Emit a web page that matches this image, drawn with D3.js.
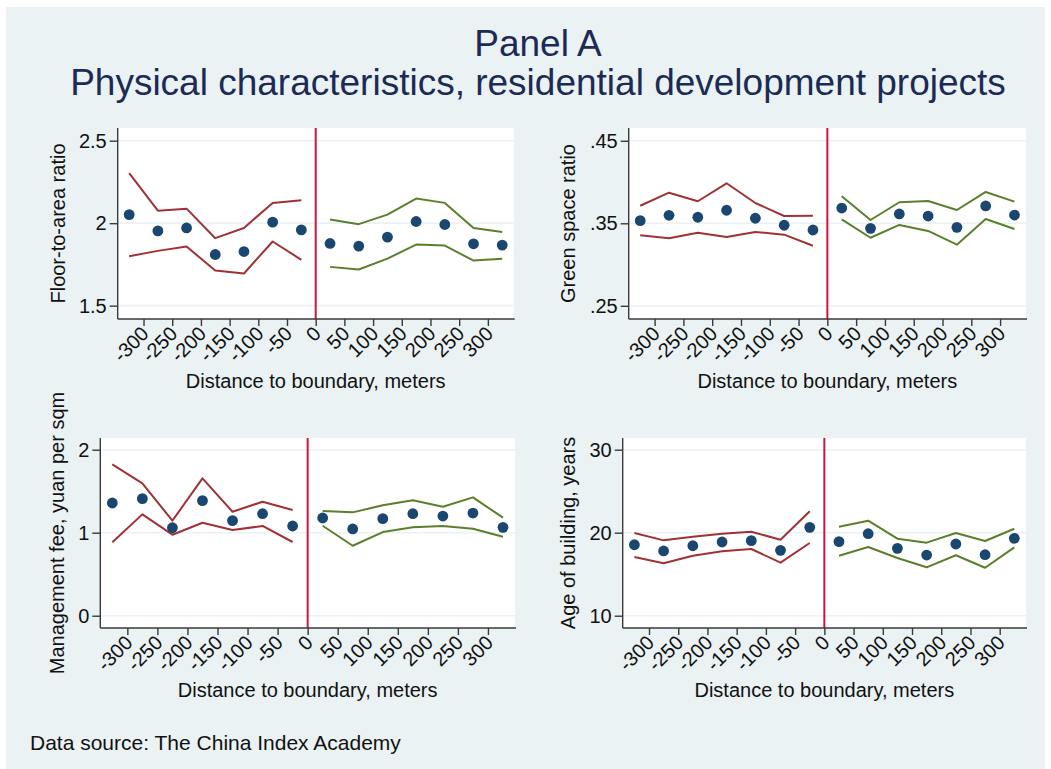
<!DOCTYPE html>
<html><head><meta charset="utf-8">
<script src="https://cdn.jsdelivr.net/npm/d3@7"></script>
<style>
html,body{margin:0;padding:0;background:#fff;}
svg{display:block;font-family:"Liberation Sans",Arial,sans-serif;}
</style></head>
<body>
<svg id="chart" width="1051" height="769"></svg>
<script>
// ---------- data ----------
const leftDist  = [-325,-275,-225,-175,-125,-75,-25];
const rightDist = [25,75,125,175,225,275,325];
const xTicks = [-300,-250,-200,-150,-100,-50,0,50,100,150,200,250,300];
const xTickLabels = ["-300","-250","-200","-150","-100","-50","0","50","100","150","200","250","300"];

// Floor-to-area ratio
const farPoint = [2.052,1.953,1.971,1.810,1.828,2.006,1.959, 1.877,1.861,1.915,2.010,1.992,1.875,1.867];
const farUpper = [2.303,2.076,2.088,1.909,1.971,2.123,2.139, 2.022,1.994,2.052,2.149,2.123,1.971,1.947];
const farLower = [1.800,1.832,1.858,1.713,1.695,1.889,1.778, 1.735,1.719,1.785,1.870,1.864,1.773,1.785];
const farTicks = [1.5,2,2.5];
const farTickLabels = ["1.5","2","2.5"];

// Green space ratio
const greenPoint = [0.3532,0.3597,0.3573,0.3658,0.3561,0.3476,0.3419, 0.3685,0.3439,0.3613,0.3588,0.3451,0.3710,0.3600];
const greenUpper = [0.3713,0.3871,0.3767,0.3985,0.3746,0.3588,0.3592, 0.3827,0.3540,0.3755,0.3770,0.3661,0.3880,0.3762];
const greenLower = [0.3355,0.3318,0.3386,0.3334,0.3395,0.3362,0.3228, 0.3548,0.3325,0.3480,0.3407,0.3241,0.3552,0.3431];
const greenTicks = [0.25,0.35,0.45];
const greenTickLabels = [".25",".35",".45"];

// Management fee
const feePoint = [1.358,1.410,1.060,1.386,1.145,1.229,1.081, 1.177,1.045,1.169,1.229,1.201,1.237,1.065];
const feeUpper = [1.824,1.595,1.145,1.655,1.253,1.373,1.273, 1.261,1.245,1.330,1.390,1.313,1.426,1.181];
const feeLower = [0.884,1.221,0.976,1.120,1.032,1.081,0.888, 1.084,0.843,1.008,1.065,1.081,1.048,0.952];
const feeTicks = [0,1,2];
const feeTickLabels = ["0","1","2"];

// Age of building
const agePoint = [18.55,17.80,18.43,18.88,19.04,17.88,20.65, 18.92,19.88,18.12,17.31,18.64,17.35,19.32];
const ageUpper = [19.96,19.08,19.52,19.88,20.12,19.16,22.58, 20.72,21.45,19.28,18.80,19.96,19.00,20.48];
const ageLower = [17.07,16.31,17.23,17.76,18.04,16.39,18.76, 17.23,18.28,16.95,15.83,17.28,15.78,18.24];
const ageTicks = [10,20,30];
const ageTickLabels = ["10","20","30"];

const titleLines = ["Panel A","Physical characteristics, residential development projects"];
const xTitle = "Distance to boundary, meters";
const noteText = "Data source: The China Index Academy";

// ---------- styling / layout ----------
const BG = "#eaf2f3", NAVY = "#1a476f", LEFTC = "#a03236", RIGHTC = "#5b7f2b", VLINE = "#c8193d";
const FONT = "'Liberation Sans', Arial, sans-serif";

const panels = [
  {yTitle:"Floor-to-area ratio", pt:farPoint, up:farUpper, lo:farLower, ticks:farTicks, labels:farTickLabels,
   ydom:[1.419,2.577], box:{l:117.7,r:513.7,t:128,b:319}, yTitleX:65},
  {yTitle:"Green space ratio", pt:greenPoint, up:greenUpper, lo:greenLower, ticks:greenTicks, labels:greenTickLabels,
   ydom:[0.234,0.4655], box:{l:628.7,r:1026,t:128,b:319}, yTitleX:575},
  {yTitle:"Management fee, yuan per sqm", pt:feePoint, up:feeUpper, lo:feeLower, ticks:feeTicks, labels:feeTickLabels,
   ydom:[-0.148,2.141], box:{l:100.3,r:515,t:438,b:628}, yTitleX:64},
  {yTitle:"Age of building, years", pt:agePoint, up:ageUpper, lo:ageLower, ticks:ageTicks, labels:ageTickLabels,
   ydom:[8.52,31.41], box:{l:622.7,r:1026,t:438,b:628}, yTitleX:575}
];

const svg = d3.select("#chart");
svg.append("rect").attr("x",6).attr("y",7).attr("width",1039).attr("height",762).attr("fill",BG);

// Title
svg.append("g").selectAll("text").data(titleLines).join("text")
  .attr("x",538).attr("y",(d,i)=>56+i*38.5)
  .attr("text-anchor","middle").attr("font-size",37).attr("fill","#1c2b55")
  .style("font-family",FONT).text(d=>d);

// Note
svg.append("text").attr("x",30).attr("y",750).attr("font-size",21).attr("fill","#111")
  .style("font-family",FONT).text(noteText);

panels.forEach(p=>{
  const B = p.box;
  const x = d3.scaleLinear().domain([-345,345]).range([B.l,B.r]);
  const y = d3.scaleLinear().domain(p.ydom).range([B.b,B.t]);
  const g = svg.append("g");

  g.append("rect").attr("x",B.l).attr("y",B.t).attr("width",B.r-B.l).attr("height",B.b-B.t).attr("fill","#fff");

  // gridlines
  g.append("g").selectAll("line").data(p.ticks).join("line")
    .attr("x1",B.l).attr("x2",B.r).attr("y1",d=>y(d)).attr("y2",d=>y(d))
    .attr("stroke",BG).attr("stroke-width",1.6);

  // vertical line at 0
  g.append("line").attr("x1",x(0)).attr("x2",x(0)).attr("y1",B.t).attr("y2",B.b)
    .attr("stroke",VLINE).attr("stroke-width",2);

  const line = d3.line().x(d=>x(d[0])).y(d=>y(d[1]));
  const n = leftDist.length;
  const sides = [
    {dist:leftDist, off:0, color:LEFTC},
    {dist:rightDist, off:n, color:RIGHTC}
  ];
  sides.forEach(s=>{
    [p.up,p.lo].forEach(arr=>{
      g.append("path").datum(s.dist.map((d,i)=>[d,arr[s.off+i]]))
        .attr("d",line).attr("fill","none").attr("stroke",s.color).attr("stroke-width",2)
        .attr("stroke-linejoin","round");
    });
  });

  const allDist = leftDist.concat(rightDist);
  g.append("g").selectAll("circle").data(allDist).join("circle")
    .attr("cx",d=>x(d)).attr("cy",(d,i)=>y(p.pt[i])).attr("r",5.4).attr("fill",NAVY);

  // y axis
  const ya = g.append("g").attr("transform",`translate(${B.l},0)`)
    .call(d3.axisLeft(y).tickValues(p.ticks).tickFormat((d,i)=>p.labels[i]).tickSize(8).tickSizeOuter(0).tickPadding(3));
  ya.select(".domain").attr("stroke","#3a3a3a").attr("stroke-width",1.4).attr("d",`M0,${B.t}V${B.b}`);
  ya.selectAll(".tick line").attr("stroke","#3a3a3a").attr("stroke-width",1.4);
  ya.selectAll(".tick text").attr("font-size",20).attr("fill","#111").style("font-family",FONT);

  // x axis
  const xa = g.append("g").attr("transform",`translate(0,${B.b})`)
    .call(d3.axisBottom(x).tickValues(xTicks).tickFormat((d,i)=>xTickLabels[i]).tickSize(7).tickSizeOuter(0));
  xa.select(".domain").attr("stroke","#3a3a3a").attr("stroke-width",1.4).attr("d",`M${B.l},0H${B.r+1}`);
  xa.selectAll(".tick line").attr("stroke","#3a3a3a").attr("stroke-width",1.4);
  xa.selectAll(".tick text").attr("font-size",20).attr("fill","#111").style("font-family",FONT)
    .attr("x",0).attr("y",0).attr("dy","0.35em").attr("text-anchor","end")
    .attr("transform","translate(1,11) rotate(-45)");

  // axis titles
  g.append("text").attr("x",x(0)).attr("y",B.b+69).attr("text-anchor","middle")
    .attr("font-size",20).attr("fill","#111").style("font-family",FONT).text(xTitle);
  g.append("text").attr("transform",`translate(${p.yTitleX},${(B.t+B.b)/2}) rotate(-90)`)
    .attr("text-anchor","middle").attr("font-size",20).attr("fill","#111").style("font-family",FONT).text(p.yTitle);
});
</script>
</body></html>
